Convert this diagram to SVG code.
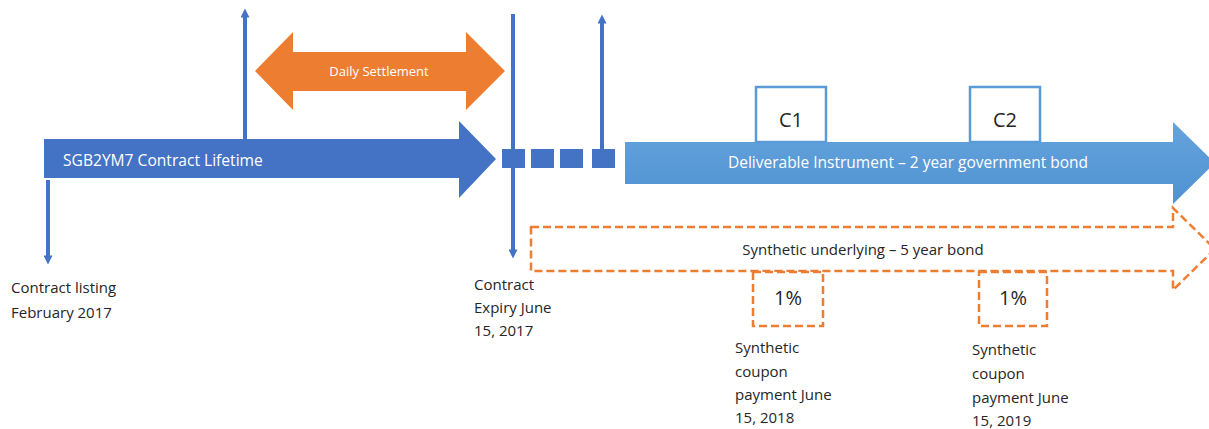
<svg xmlns="http://www.w3.org/2000/svg" width="1209" height="429" viewBox="0 0 1209 429">
  <style>
    .lbl { font-family: "Open Sans", Lato, "Liberation Sans", sans-serif; font-size: 15px; fill: #262626; }
    .wht { font-family: "Open Sans", Lato, "Liberation Sans", sans-serif; fill: #ffffff; }
    .tick { stroke: #4472c4; stroke-width: 4; fill: none; }
    .dash { fill: #ffffff; stroke: #ed7d31; stroke-width: 2.5; stroke-dasharray: 8 4; }
    .sq { fill: #4472c4; }
    .cbox { fill: #ffffff; stroke: #5b9bd5; stroke-width: 2.5; }
    .big { font-family: "Open Sans", Lato, "Liberation Sans", sans-serif; font-size: 20px; fill: #262626; text-anchor: middle; }
  </style>
  <defs>
    <marker id="head" viewBox="0 0 10 10" refX="5" refY="5" markerUnits="userSpaceOnUse" markerWidth="11" markerHeight="9" orient="auto">
      <path d="M0,0 L10,5 L0,10 Z" fill="#4472c4"/>
    </marker>
    <linearGradient id="lightBlue" x1="0" y1="0" x2="0" y2="1">
      <stop offset="0" stop-color="#65a3dc"/>
      <stop offset="1" stop-color="#4f92d2"/>
    </linearGradient>
  </defs>

  <!-- contract lifetime arrow -->
  <g id="lifetime">
    <path d="M44,139 L459,139 L459,121 L496,159 L459,198 L459,178 L44,178 Z" fill="#4472c4"/>
    <text class="wht" x="63" y="166" font-size="15.6">SGB2YM7 Contract Lifetime</text>
  </g>

  <!-- daily settlement double arrow -->
  <g id="settlement">
    <path d="M255,71 L293,32 L293,52 L466,52 L466,32 L505,71 L466,110 L466,91 L293,91 L293,110 Z" fill="#ed7d31"/>
    <text class="wht" x="379" y="76" font-size="13" text-anchor="middle">Daily Settlement</text>
  </g>

  <!-- squares after expiry -->
  <g id="gap-squares">
    <rect class="sq" x="502" y="149" width="23" height="19"/>
    <rect class="sq" x="531" y="149" width="23" height="19"/>
    <rect class="sq" x="560" y="149" width="23" height="19"/>
    <rect class="sq" x="592" y="149" width="23" height="19"/>
  </g>

  <!-- deliverable instrument arrow -->
  <g id="deliverable">
    <path d="M625,142 L1173,142 L1173,122 L1215,163 L1173,204 L1173,184 L625,184 Z" fill="url(#lightBlue)"/>
    <text class="wht" x="908" y="168" font-size="15.5" text-anchor="middle">Deliverable Instrument – 2 year government bond</text>
  </g>

  <g id="c1">
    <rect class="cbox" x="756" y="87" width="70" height="55"/>
    <text class="big" x="791" y="127">C1</text>
  </g>
  <g id="c2">
    <rect class="cbox" x="970" y="87" width="70" height="55"/>
    <text class="big" x="1005" y="127">C2</text>
  </g>

  <!-- synthetic underlying dashed arrow -->
  <g id="synthetic">
    <path class="dash" d="M531,227 L1173,227 L1173,208 L1215,249 L1173,290 L1173,271 L531,271 Z"/>
    <text class="lbl" x="863" y="255" text-anchor="middle" font-size="15.6">Synthetic underlying – 5 year bond</text>
  </g>

  <g id="coupon1">
    <rect class="dash" x="753" y="272" width="70" height="54"/>
    <text class="big" x="788" y="305" font-size="17">1%</text>
    <text class="lbl" x="735" y="353">Synthetic</text>
    <text class="lbl" x="735" y="377">coupon</text>
    <text class="lbl" x="735" y="400">payment June</text>
    <text class="lbl" x="735" y="423">15, 2018</text>
  </g>
  <g id="coupon2">
    <rect class="dash" x="979" y="272" width="68" height="54"/>
    <text class="big" x="1013" y="305" font-size="17">1%</text>
    <text class="lbl" x="972" y="355">Synthetic</text>
    <text class="lbl" x="972" y="379">coupon</text>
    <text class="lbl" x="972" y="403">payment June</text>
    <text class="lbl" x="972" y="426">15, 2019</text>
  </g>

  <g id="listing-label">
    <text class="lbl" x="11" y="293">Contract listing</text>
    <text class="lbl" x="11" y="318">February 2017</text>
  </g>
  <g id="expiry-label">
    <text class="lbl" x="474" y="290">Contract</text>
    <text class="lbl" x="474" y="313">Expiry June</text>
    <text class="lbl" x="474" y="336">15, 2017</text>
  </g>

  <!-- timeline ticks -->
  <g id="connectors">
    <line class="tick" x1="245" y1="139" x2="245" y2="13" marker-end="url(#head)"/>
    <line class="tick" x1="513" y1="14" x2="513" y2="254" marker-end="url(#head)"/>
    <line class="tick" x1="602" y1="149" x2="602" y2="19" marker-end="url(#head)"/>
    <line class="tick" x1="48" y1="180" x2="48" y2="260" marker-end="url(#head)"/>
  </g>
</svg>
